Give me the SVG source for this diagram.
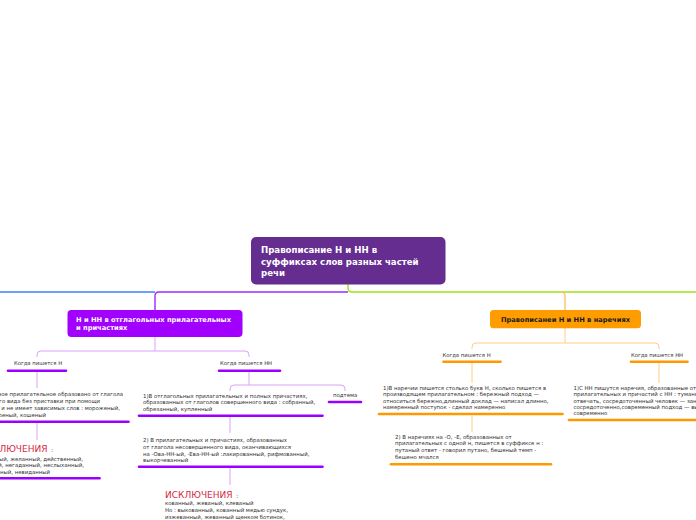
<svg xmlns="http://www.w3.org/2000/svg" width="696" height="520" viewBox="0 0 696 520">
<style>
.t{font-family:"DejaVu Sans","Liberation Sans",sans-serif;font-size:5.4px;fill:#333333}
.lbl{font-family:"DejaVu Sans","Liberation Sans",sans-serif;font-size:5.3px;fill:#333333}
.ex{font-family:"DejaVu Sans","Liberation Sans",sans-serif;font-size:9px;fill:#d42a44}
.hd{font-family:"DejaVu Sans","Liberation Sans",sans-serif;font-weight:bold}
.pc{fill:none;stroke:#d9a3ff;stroke-width:1}
.oc{fill:none;stroke:#ffcc88;stroke-width:1}
.pu{stroke:#9a00ff;stroke-width:2.6;stroke-linecap:round}
.ou{stroke:#ff9900;stroke-width:2.6;stroke-linecap:round}
</style>
<rect width="696" height="520" fill="#ffffff"/>
<g id="connectors">
<path d="M0,292 H155" fill="none" stroke="#3d7fff" stroke-width="1.4"/>
<path d="M348,284 V288 Q348,292 352,292 H696" fill="none" stroke="#99e619" stroke-width="1.4"/>
<path d="M348,292 H159 Q155,292 155,296 V310" fill="none" stroke="#9a2bff" stroke-width="1.4"/>
<path d="M561,292 Q565,292 565,296 V310" fill="none" stroke="#ffc070" stroke-width="1.4"/>
<path class="pc" d="M155,337 V351"/>
<path class="pc" d="M155,351 H41 Q37,351 37,355 V357"/>
<path class="pc" d="M155,351 H245 Q249,351 249,355 V357"/>
<path class="pc" d="M37,372 V388"/>
<path class="pc" d="M37,423 V440"/>
<path class="pc" d="M249,372 V385"/>
<path class="pc" d="M249,385 H234 Q230,385 230,389 V391"/>
<path class="pc" d="M249,385 H341 Q345,385 345,389 V391"/>
<path class="pc" d="M230,417 V433"/>
<path class="pc" d="M230,468 V485"/>
<path class="oc" d="M565,328 V343"/>
<path class="oc" d="M565,343 H476 Q472,343 472,347 V349"/>
<path class="oc" d="M565,343 H655 Q659,343 659,347 V349"/>
<path class="oc" d="M472,363 V383"/>
<path class="oc" d="M472,416 V432"/>
<path class="oc" d="M659,363 V383"/>
</g>
<g id="central">
<rect x="251" y="237" width="194.5" height="47.5" rx="5" fill="#662d91"/>
<text class="hd" font-size="8.6" fill="#ffffff"><tspan x="261" y="252.7">Правописание Н и НН в</tspan><tspan x="261" y="264.5">суффиксах слов разных частей</tspan><tspan x="261" y="276.3">речи</tspan></text>
</g>
<g id="n_adj">
<rect x="67.5" y="310" width="175" height="27" rx="4" fill="#a100ff"/>
<text class="hd" font-size="6.7" fill="#ffffff"><tspan x="76" y="322.3">Н и НН в отглагольных прилагательных</tspan><tspan x="76" y="330.3">и причастиях</tspan></text>
</g>
<g id="n_adv">
<rect x="490" y="310" width="151" height="18.3" rx="3.5" fill="#ff9d00"/>
<text class="hd" font-size="6.7" fill="#1a1a1a" x="565.5" y="321.7" text-anchor="middle">Правописанеи Н и НН в наречиях</text>
</g>
<g id="adj_n">
<text class="lbl" x="38" y="365.3" text-anchor="middle">Когда пишется Н</text>
<line class="pu" x1="8" y1="370.7" x2="66" y2="370.7"/>
</g>
<g id="adj_n_rule">
<text class="t" text-anchor="end"><tspan x="123" y="396">1) Если отглагольное прилагательное образовано от глагола</tspan><tspan x="100" y="403.2">несовершенного вида без приставки при помощи</tspan><tspan x="120" y="410.4">суффикса -Н- и не имеет зависимых слов : мороженый,</tspan><tspan x="46" y="417">жареный, кошеный</tspan></text>
<line class="pu" x1="-60" y1="421.7" x2="128.5" y2="421.7"/>
</g>
<g id="adj_n_exc">
<text text-anchor="end"><tspan class="ex" x="53" y="452.3">ИСКЛЮЧЕНИЯ</tspan><tspan class="t" dx="2"> :</tspan></text>
<text class="t" text-anchor="end"><tspan x="83" y="460.5">медленный, желанный, действенный,</tspan><tspan x="84" y="467.3">нечаянный, негаданный, неслыханный,</tspan><tspan x="50" y="474">священный, невиданный</tspan></text>
<line class="pu" x1="-60" y1="478.3" x2="99.5" y2="478.3"/>
</g>
<g id="adj_nn">
<text class="lbl" x="246" y="365.3" text-anchor="middle">Когда пишется НН</text>
<line class="pu" x1="219" y1="370.7" x2="280" y2="370.7"/>
</g>
<g id="adj_nn_1">
<text class="t"><tspan x="143" y="397.5">1)В отглагольных прилагательных и полных причастиях,</tspan><tspan x="143" y="404.3">образованных от глаголов совершенного вида : собранный,</tspan><tspan x="143" y="411">обрезанный, купленный</tspan></text>
<line class="pu" x1="139" y1="415.7" x2="322.5" y2="415.7"/>
</g>
<g id="adj_nn_sub">
<text class="t" x="333" y="397.3">подтема</text>
<line class="pu" x1="329" y1="402" x2="361" y2="402"/>
</g>
<g id="adj_nn_2">
<text class="t"><tspan x="143" y="442">2) В прилагательных и причастиях, образованных</tspan><tspan x="143" y="448.8">от глагола несовершенного вида, оканчивающихся</tspan><tspan x="143" y="455.8">на -Ова-НН-ый, -Ева-НН-ый :лакированный, рифмованный,</tspan><tspan x="143" y="462.2">выкорчеванный</tspan></text>
<line class="pu" x1="139" y1="466.7" x2="322.5" y2="466.7"/>
</g>
<g id="adj_nn_exc">
<text><tspan class="ex" x="165" y="498.3">ИСКЛЮЧЕНИЯ</tspan><tspan class="t" dx="2"> :</tspan></text>
<text class="t"><tspan x="165" y="505.2">кованный, жеваный, клеваный</tspan><tspan x="165" y="512.2">Но : выкованный, кованный медью сундук,</tspan><tspan x="165" y="519">изжеванный, жеванный щенком ботинок,</tspan></text>
</g>
<g id="adv_n">
<text class="lbl" x="466.5" y="357" text-anchor="middle">Когда пишется Н</text>
<line class="ou" x1="443.5" y1="361.7" x2="500.5" y2="361.7"/>
</g>
<g id="adv_n_1">
<text class="t"><tspan x="383" y="389.6">1)В наречии пишется столько букв Н, сколько пишется в</tspan><tspan x="383" y="396.2">производящем прилагательном : бережный подход —</tspan><tspan x="383" y="402.8">относиться бережно,длинный доклад — написал длинно,</tspan><tspan x="383" y="409.4">намеренный поступок - сделал намеренно</tspan></text>
<line class="ou" x1="379" y1="414" x2="562.5" y2="414"/>
</g>
<g id="adv_n_2">
<text class="t"><tspan x="395" y="438.6">2) В наречиях на -О, -Е, образованных от</tspan><tspan x="395" y="445.3">прилагательных с одной н, пишется в суффиксе н :</tspan><tspan x="395" y="452">путаный ответ - говорил путано, бешеный темп -</tspan><tspan x="395" y="458.6">бешено мчался</tspan></text>
<line class="ou" x1="391" y1="464.3" x2="551" y2="464.3"/>
</g>
<g id="adv_nn">
<text class="lbl" x="657" y="357" text-anchor="middle">Когда пишется НН</text>
<line class="ou" x1="631" y1="361.7" x2="687.5" y2="361.7"/>
</g>
<g id="adv_nn_1">
<text class="t"><tspan x="573.5" y="389.6">1)С НН пишутся наречия, образованные от</tspan><tspan x="573.5" y="396.2">прилагательных и причастий с НН : туманный ответ — туманно</tspan><tspan x="573.5" y="402.8">отвечать, сосредоточенный человек — занимается</tspan><tspan x="573.5" y="409">сосредоточенно,современный подход — выглядит</tspan><tspan x="573.5" y="415">современно</tspan></text>
<line class="ou" x1="569" y1="420" x2="720" y2="420"/>
</g>
</svg>
